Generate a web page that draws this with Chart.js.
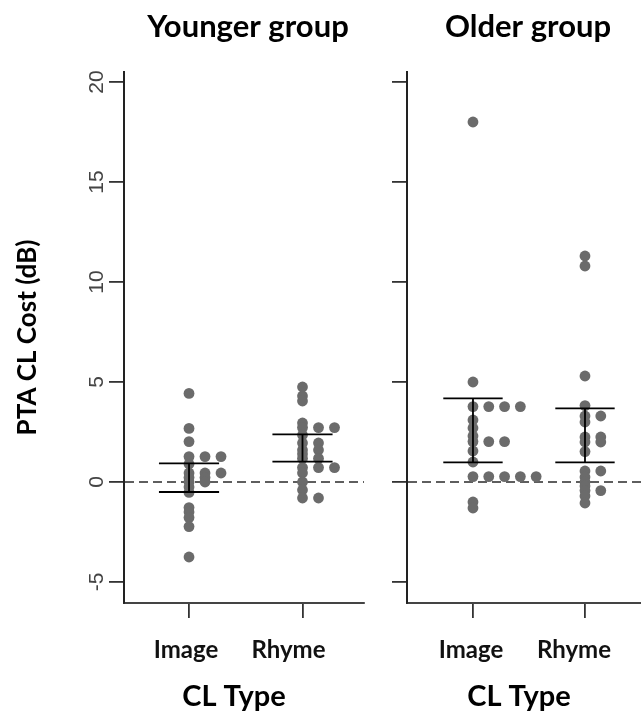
<!DOCTYPE html>
<html>
<head>
<meta charset="utf-8">
<script src="https://cdn.jsdelivr.net/npm/chart.js@4.4.1/dist/chart.umd.min.js"></script>
<style>
  html, body { margin: 0; padding: 0; background: #ffffff; }
  #wrap { position: relative; width: 641px; height: 715px; overflow: hidden; background: #ffffff; }
  canvas { position: absolute; top: 0; }
</style>
</head>
<body>
<div id="wrap">
  <canvas id="left" width="370" height="715" style="left:0px;width:370px;height:715px"></canvas>
  <canvas id="right" width="294" height="715" style="left:347px;width:294px;height:715px"></canvas>
</div>
<script>
// ---------------- data ----------------
const categories = ['Image', 'Rhyme'];
const panelTitles = ['Younger group', 'Older group'];
const xAxisTitle = 'CL Type';
const yAxisTitle = 'PTA CL Cost (dB)';
const yTicks = [-5, 0, 5, 10, 15, 20];

const youngerImage = [4.43, 2.68, 2.02, 1.27, 1.27, 1.27, 0.9, 0.45, 0.45, 0.45, 0.22, 0.22, 0.0, 0.0, -0.25, -0.52, -1.28, -1.5, -1.78, -2.23, -3.75];
const youngerRhyme = [4.75, 4.3, 4.05, 2.95, 2.72, 2.72, 2.72, 2.35, 1.95, 1.95, 1.6, 1.6, 1.4, 1.18, 1.18, 0.72, 0.72, 0.72, 0.45, 0.0, -0.4, -0.8, -0.8];
const olderImage   = [18.0, 5.0, 3.77, 3.77, 3.77, 3.77, 3.1, 2.7, 2.3, 2.02, 2.02, 2.02, 1.55, 1.0, 0.27, 0.27, 0.27, 0.27, 0.27, -1.0, -1.3];
const olderRhyme   = [11.3, 10.8, 5.3, 3.82, 3.3, 3.3, 3.0, 2.25, 2.25, 2.0, 2.0, 1.52, 0.55, 0.55, 0.25, 0.0, -0.2, -0.43, -0.43, -0.7, -1.05];

// mean +/- interval (upper, lower) per category
const youngerUpper = [0.93, 2.38];
const youngerLower = [-0.5, 1.02];
const olderUpper   = [4.18, 3.68];
const olderLower   = [0.98, 0.98];

// ---------------- helpers ----------------
const STACK_STEP = 0.141;   // horizontal step (x units) for stacked equal values
function stackPoints(values, catPos) {
  const seen = {};
  return values.map(v => {
    const key = v.toFixed(2);
    const slot = seen[key] || 0;
    seen[key] = slot + 1;
    return { x: catPos + slot * STACK_STEP, y: v };
  });
}

const POINT_COLOR = '#6b6b6b';
const LABEL_FONT = 'Lato, "Open Sans", sans-serif';

const panelPlugin = {
  id: 'panelPlugin',
  beforeDatasetsDraw(chart, args, opts) {
    const { ctx, chartArea } = chart;
    const y0 = chart.scales.y.getPixelForValue(0);
    ctx.save();
    ctx.strokeStyle = '#2a2a2a';
    ctx.lineWidth = 1.6;
    ctx.setLineDash([9, 5]);
    ctx.beginPath();
    ctx.moveTo(chartArea.left + 1, y0);
    ctx.lineTo(chartArea.right, y0);
    ctx.stroke();
    ctx.restore();
  },
  afterDatasetsDraw(chart, args, opts) {
    const { ctx } = chart;
    const xs = chart.scales.x, ys = chart.scales.y;
    ctx.save();
    ctx.strokeStyle = '#000000';
    ctx.lineWidth = 1.8;
    opts.upper.forEach((u, i) => {
      const c = i + 1;
      const l = opts.lower[i];
      const xl = xs.getPixelForValue(c - 0.265);
      const xr = xs.getPixelForValue(c + 0.265);
      const xc = xs.getPixelForValue(c);
      const yu = ys.getPixelForValue(u);
      const yl = ys.getPixelForValue(l);
      ctx.beginPath();
      ctx.moveTo(xl, yu); ctx.lineTo(xr, yu);
      ctx.moveTo(xl, yl); ctx.lineTo(xr, yl);
      ctx.moveTo(xc, yu); ctx.lineTo(xc, yl);
      ctx.stroke();
    });
    ctx.restore();
  },
  afterDraw(chart, args, opts) {
    const { ctx, chartArea } = chart;
    const xs = chart.scales.x, ys = chart.scales.y;
    ctx.save();
    // y tick labels (rotated, R style)
    if (opts.showYLabels) {
      ctx.fillStyle = '#444444';
      ctx.font = '21px "Liberation Sans", Arial, sans-serif';
      ctx.textAlign = 'center';
      ctx.textBaseline = 'middle';
      yTicks.forEach(t => {
        const py = ys.getPixelForValue(t);
        ctx.save();
        ctx.translate(chartArea.left - 27, py);
        ctx.rotate(-Math.PI / 2);
        ctx.fillText(String(t), 0, 0);
        ctx.restore();
      });
    }
    // x tick labels
    ctx.fillStyle = '#111111';
    ctx.font = 'bold 24px ' + LABEL_FONT;
    ctx.textAlign = 'center';
    ctx.textBaseline = 'middle';
    categories.forEach((c, i) => {
      ctx.fillText(c, xs.getPixelForValue(i + 1) + opts.labelShift[i], 650);
    });
    // x axis title
    ctx.fillStyle = '#000000';
    ctx.font = 'bold 29px ' + LABEL_FONT;
    ctx.fillText(xAxisTitle, (chartArea.left + chartArea.right) / 2 + opts.xTitleShift, 697);
    // panel title
    ctx.font = 'bold 31px ' + LABEL_FONT;
    ctx.fillText(opts.title, (chartArea.left + chartArea.right) / 2 + opts.titleShift, 27);
    ctx.restore();
  }
};

function makePanel(canvasId, imgVals, rhyVals, upper, lower, xMin, xMax, yAxisWidth, padRight, isLeft, title) {
  const ctx = document.getElementById(canvasId).getContext('2d');
  return new Chart(ctx, {
    type: 'scatter',
    data: {
      datasets: [
        { label: categories[0], data: stackPoints(imgVals, 1) },
        { label: categories[1], data: stackPoints(rhyVals, 2) }
      ]
    },
    options: {
      responsive: false,
      animation: false,
      events: [],
      layout: { autoPadding: false, padding: { left: 0, right: padRight, top: 72, bottom: 0 } },
      elements: {
        point: { radius: 5.4, backgroundColor: POINT_COLOR, borderWidth: 0, hoverRadius: 5.4 }
      },
      plugins: {
        legend: { display: false },
        tooltip: { enabled: false },
        title: { display: false },
        panelPlugin: {
          upper: upper, lower: lower, showYLabels: isLeft, title: title,
          labelShift: isLeft ? [-3, -14] : [-2, -11],
          xTitleShift: isLeft ? -10 : -5,
          titleShift: 4
        }
      },
      scales: {
        x: {
          type: 'linear',
          min: xMin, max: xMax,
          afterBuildTicks: s => { s.ticks = [{ value: 1 }, { value: 2 }]; },
          ticks: { display: false },
          grid: { drawOnChartArea: false, drawTicks: true, tickLength: 15, color: '#333333', lineWidth: 1.8 },
          border: { display: true, color: '#444444', width: 2 },
          afterFit: s => { s.height = 715 - 603; }
        },
        y: {
          type: 'linear',
          min: -6.05, max: 20.5,
          afterBuildTicks: s => { s.ticks = yTicks.map(v => ({ value: v })); },
          ticks: { display: false },
          grid: { drawOnChartArea: false, drawTicks: true, tickLength: 15, color: '#333333', lineWidth: 1.8 },
          border: { display: true, color: '#222222', width: 2 },
          title: {
            display: isLeft,
            text: yAxisTitle,
            color: '#000000',
            font: { family: LABEL_FONT, weight: 'bold', size: 26 },
            padding: { top: 12, bottom: 0 }
          },
          afterFit: s => { s.width = yAxisWidth; }
        }
      }
    },
    plugins: [panelPlugin]
  });
}

makePanel('left', youngerImage, youngerRhyme, youngerUpper, youngerLower, 0.427, 2.542, 124, 6, true, panelTitles[0]);
makePanel('right', olderImage, olderRhyme, olderUpper, olderLower, 0.411, 2.500, 60, 0, false, panelTitles[1]);
</script>
</body>
</html>
